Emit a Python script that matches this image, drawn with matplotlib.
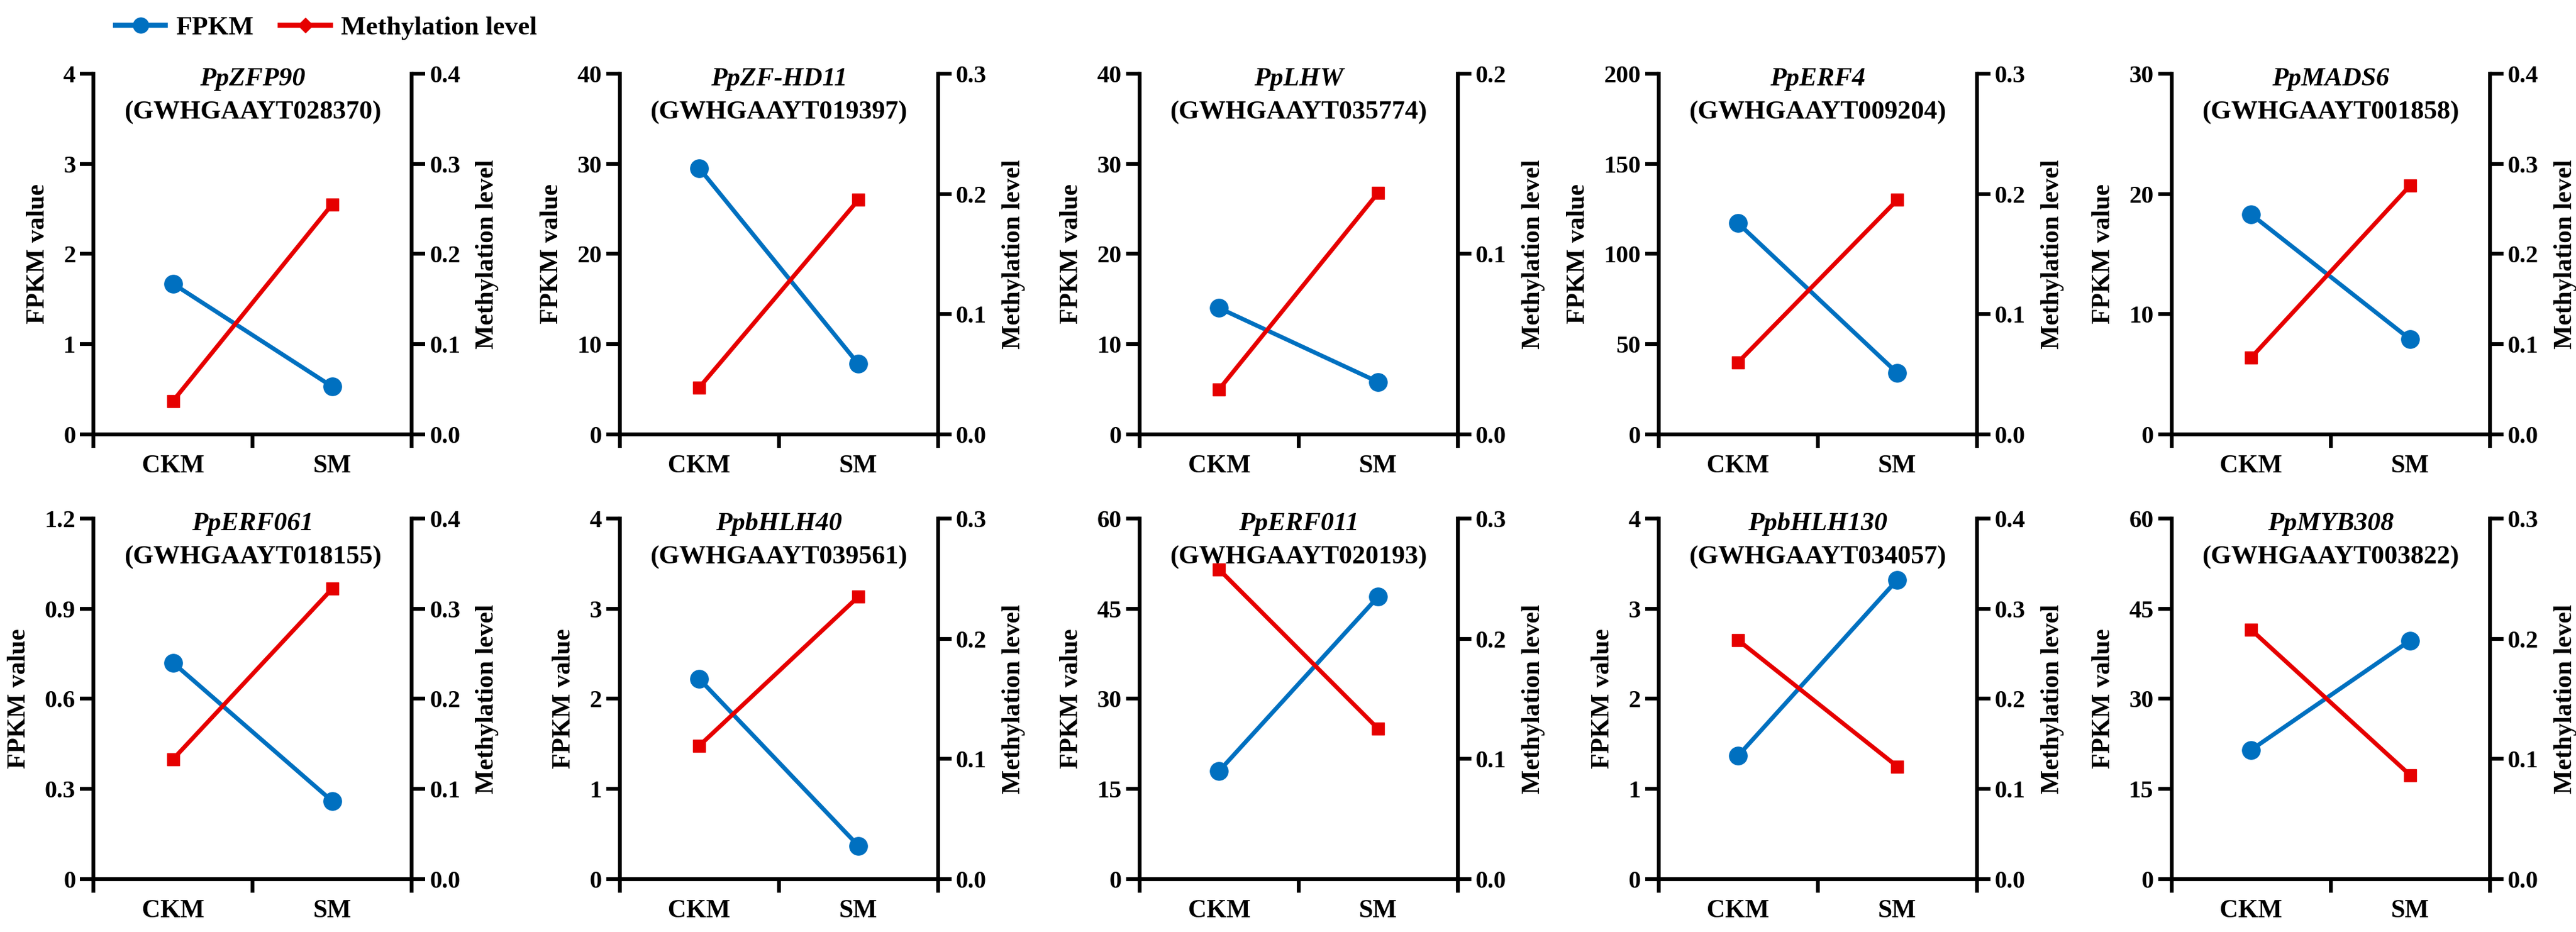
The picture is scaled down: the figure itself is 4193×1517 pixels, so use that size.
import matplotlib
matplotlib.use('Agg')
import matplotlib.pyplot as plt
from matplotlib.lines import Line2D
from matplotlib.ticker import FuncFormatter

# ---------------- datos ----------------
genes = ['PpZFP90', 'PpZF-HD11', 'PpLHW', 'PpERF4', 'PpMADS6',
         'PpERF061', 'PpbHLH40', 'PpERF011', 'PpbHLH130', 'PpMYB308']
gene_ids = ['GWHGAAYT028370', 'GWHGAAYT019397', 'GWHGAAYT035774', 'GWHGAAYT009204', 'GWHGAAYT001858',
            'GWHGAAYT018155', 'GWHGAAYT039561', 'GWHGAAYT020193', 'GWHGAAYT034057', 'GWHGAAYT003822']
groups = ['CKM', 'SM']

fpkm_ckm = [1.67, 29.5, 14.0, 117, 18.3, 0.72, 2.22, 18.0, 1.37, 21.5]
fpkm_sm = [0.53, 7.8, 5.8, 34, 7.9, 0.26, 0.37, 47.0, 3.32, 39.7]
meth_ckm = [0.037, 0.039, 0.025, 0.060, 0.085, 0.133, 0.111, 0.2575, 0.265, 0.2075]
meth_sm = [0.255, 0.195, 0.134, 0.195, 0.276, 0.322, 0.235, 0.125, 0.125, 0.0865]

fpkm_max = [4, 40, 40, 200, 30, 1.2, 4, 60, 4, 60]
fpkm_step = [1, 10, 10, 50, 10, 0.3, 1, 15, 1, 15]
meth_max = [0.4, 0.3, 0.2, 0.3, 0.4, 0.4, 0.3, 0.3, 0.4, 0.3]

BLUE = '#0070C0'
RED = '#E60000'
FONT = ['Liberation Serif', 'DejaVu Serif']

plt.rcParams['font.family'] = FONT
plt.rcParams['font.weight'] = 'bold'

fig = plt.figure(figsize=(41.93, 15.17), dpi=100)

lefts = [0.0363, 0.2406, 0.4424, 0.6439, 0.8430]
bottoms = [0.534, 0.0567]
W, H = 0.1235, 0.387

for i in range(10):
    r, c = divmod(i, 5)
    ax = fig.add_axes([lefts[c], bottoms[r], W, H])
    ax2 = ax.twinx()

    ax.plot([0.5, 1.5], [fpkm_ckm[i], fpkm_sm[i]], color=BLUE, lw=5,
            marker='o', ms=21, zorder=3, clip_on=False)
    ax2.plot([0.5, 1.5], [meth_ckm[i], meth_sm[i]], color=RED, lw=5,
             marker='s', ms=15, zorder=3, clip_on=False)

    ax.set_xlim(0, 2)
    n = round(fpkm_max[i] / fpkm_step[i])
    ax.set_ylim(0, fpkm_max[i])
    ax.set_yticks([fpkm_step[i] * k for k in range(n + 1)])
    ax.yaxis.set_major_formatter(FuncFormatter(lambda v, p: '0' if abs(v) < 1e-9 else f'{v:g}'))
    ax2.set_ylim(0, meth_max[i])
    m = round(meth_max[i] / 0.1)
    ax2.set_yticks([0.1 * k for k in range(m + 1)])
    ax2.yaxis.set_major_formatter(FuncFormatter(lambda v, p: f'{v:.1f}'))

    ax.set_xticks([0, 1, 2])
    ax.set_xticklabels([])
    ax.set_xticks([0.5, 1.5], minor=True)
    ax.set_xticklabels(groups, minor=True, fontsize=30, fontweight='bold')
    ax.tick_params(axis='x', which='minor', length=0, pad=24)
    ax.tick_params(axis='x', which='major', length=16, width=4.5, direction='out')
    ax.tick_params(axis='y', length=16, width=4.5, labelsize=29, pad=5)
    ax2.tick_params(axis='y', length=16, width=4.5, labelsize=29, pad=5)

    for s in ['top', 'right']:
        ax.spines[s].set_visible(False)
    for s in ['top', 'left', 'bottom']:
        ax2.spines[s].set_visible(False)
    for s in ['left', 'bottom']:
        ax.spines[s].set_linewidth(4.5)
    ax2.spines['right'].set_linewidth(4.5)

    ax.set_ylabel('FPKM value', fontsize=30, fontweight='bold', labelpad=16)
    ax2.set_ylabel('Methylation level', fontsize=30, fontweight='bold', labelpad=18)

    ax.text(0.5, 0.985, genes[i], transform=ax.transAxes, ha='center', va='center',
            fontsize=31, fontweight='bold', fontstyle='italic', zorder=5)
    ax.text(0.5, 0.893, '(' + gene_ids[i] + ')', transform=ax.transAxes, ha='center', va='center',
            fontsize=31, fontweight='bold', zorder=5)

# leyenda
handles = [Line2D([], [], color=BLUE, lw=6, marker='o', ms=18),
           Line2D([], [], color=RED, lw=6, marker='D', ms=12)]
fig.legend(handles, ['FPKM', 'Methylation level'], loc='center left',
           bbox_to_anchor=(0.0355, 0.970), ncol=2, frameon=False,
           prop={'family': FONT, 'weight': 'bold', 'size': 31},
           handlelength=1.9, columnspacing=1.0, handletextpad=0.4)

fig.savefig('out.png', dpi=100)
